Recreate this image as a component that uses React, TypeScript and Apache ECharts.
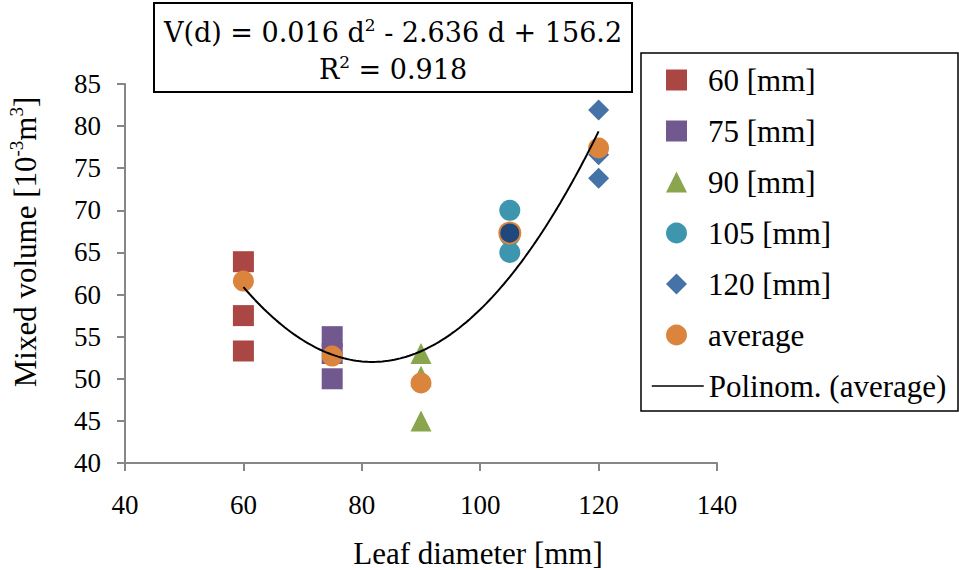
import React, { useEffect, useRef } from "react";
import * as echarts from "echarts";

// Leaf diameters [mm] and mixed volume measurements [10^-3 m^3]
const diameters = [60, 75, 90, 105, 120];
const vol60 = [63.9, 57.5, 53.3];
const vol75 = [55.0, 53.0, 50.0];
const vol90 = [53.0, 50.3, 45.0];
const vol105 = [70.0, 67.0, 65.0];
const vol120 = [81.9, 76.6, 73.8];
const averageVol = [61.6, 52.7, 49.5, 67.3, 77.4];

const seriesNames = ["60 [mm]", "75 [mm]", "90 [mm]", "105 [mm]", "120 [mm]", "average", "Polinom. (average)"];
const xTicks = { min: 40, max: 140, interval: 20 };
const yTicks = { min: 40, max: 85, interval: 5 };

const equationLine1 = "V(d) = 0.016 d{sup|2} - 2.636 d + 156.2";
const equationLine2 = "R{sup|2} = 0.918";

const SERIF = "'Liberation Serif', 'Times New Roman', serif";
const MATH = "'DejaVu Serif', serif";

// Least-squares quadratic fit y = a + b x + c x^2
function fitQuadratic(xs: number[], ys: number[]): number[] {
  const S = [0, 0, 0, 0, 0];
  const T = [0, 0, 0];
  xs.forEach((x, i) => {
    for (let k = 0; k < 5; k++) S[k] += Math.pow(x, k);
    for (let k = 0; k < 3; k++) T[k] += ys[i] * Math.pow(x, k);
  });
  const m = [
    [S[0], S[1], S[2], T[0]],
    [S[1], S[2], S[3], T[1]],
    [S[2], S[3], S[4], T[2]],
  ];
  for (let i = 0; i < 3; i++) {
    for (let j = i + 1; j < 3; j++) {
      const f = m[j][i] / m[i][i];
      for (let k = i; k < 4; k++) m[j][k] -= f * m[i][k];
    }
  }
  const c = [0, 0, 0];
  for (let i = 2; i >= 0; i--) {
    let s = m[i][3];
    for (let k = i + 1; k < 3; k++) s -= m[i][k] * c[k];
    c[i] = s / m[i][i];
  }
  return c;
}

function trendPoints(): number[][] {
  const [a, b, c] = fitQuadratic(diameters, averageVol);
  const pts: number[][] = [];
  const lo = diameters[0];
  const hi = diameters[diameters.length - 1];
  for (let d = lo; d <= hi; d += 0.5) pts.push([d, a + b * d + c * d * d]);
  return pts;
}

const pairs = (d: number, vals: number[]) => vals.map((v) => [d, v]);

export default function App() {
  const ref = useRef<HTMLDivElement>(null);

  useEffect(() => {
    if (!ref.current) return;
    const chart = echarts.init(ref.current, undefined, { renderer: "svg" });

    const scatter = (name: string, data: any[], color: string, symbol: string) => ({
      name,
      type: "scatter",
      data,
      symbol,
      symbolSize: 21,
      itemStyle: { color, opacity: 1 },
      z: 2,
    });

    const avgData = diameters.map((d, i) =>
      i === 3
        ? { value: [d, averageVol[i]], itemStyle: { color: "#1F497D", borderColor: "#DB843D", borderWidth: 2 } }
        : [d, averageVol[i]]
    );

    const legendText = { color: "#000", fontFamily: SERIF, fontSize: 31, lineHeight: 32 };

    const mathStyle = (text: string) => ({
      text,
      align: "center",
      verticalAlign: "middle",
      fontFamily: MATH,
      fontSize: 27,
      lineHeight: 32,
      fill: "#000",
      rich: {
        sup: { fontFamily: MATH, fontSize: 17, lineHeight: 20, verticalAlign: "top", fill: "#000" },
      },
    });

    chart.setOption({
      animation: false,
      backgroundColor: "#ffffff",
      grid: { left: 125, right: 242, top: 84, bottom: 107, containLabel: false },
      xAxis: {
        type: "value",
        min: xTicks.min,
        max: xTicks.max,
        interval: xTicks.interval,
        splitLine: { show: false },
        axisLine: { onZero: false, lineStyle: { color: "#868686", width: 2 } },
        axisTick: { show: true, length: 8, lineStyle: { color: "#868686", width: 2 } },
        axisLabel: { color: "#000", fontFamily: SERIF, fontSize: 27, margin: 28 },
      },
      yAxis: {
        type: "value",
        min: yTicks.min,
        max: yTicks.max,
        interval: yTicks.interval,
        splitLine: { show: false },
        axisLine: { show: true, onZero: false, lineStyle: { color: "#868686", width: 2 } },
        axisTick: { show: true, length: 8, lineStyle: { color: "#868686", width: 2 } },
        axisLabel: { color: "#000", fontFamily: SERIF, fontSize: 27, margin: 24 },
      },
      legend: [
        {
          // marker entries
          orient: "vertical",
          left: 666,
          top: 64,
          padding: 0,
          itemWidth: 21,
          itemHeight: 21,
          itemGap: 19,
          symbolKeepAspect: true,
          data: seriesNames.slice(0, 6),
          textStyle: { ...legendText, padding: [0, 0, 0, 16] },
        },
        {
          // trendline entry
          orient: "vertical",
          left: 651,
          top: 370,
          padding: 0,
          itemWidth: 52,
          itemHeight: 20,
          lineStyle: { width: 1.5 },
          data: [
            {
              name: seriesNames[6],
              itemStyle: { color: "rgba(0,0,0,0)", borderColor: "rgba(0,0,0,0)", borderWidth: 0 },
            },
          ],
          textStyle: legendText,
        },
      ],
      series: [
        scatter(seriesNames[0], pairs(diameters[0], vol60), "#AA4643", "rect"),
        scatter(seriesNames[1], pairs(diameters[1], vol75), "#71588F", "rect"),
        scatter(seriesNames[2], pairs(diameters[2], vol90), "#89A54E", "triangle"),
        scatter(seriesNames[3], pairs(diameters[3], vol105), "#3D96AE", "circle"),
        scatter(seriesNames[4], pairs(diameters[4], vol120), "#4572A7", "diamond"),
        scatter(seriesNames[5], avgData, "#DB843D", "circle"),
        {
          name: seriesNames[6],
          type: "line",
          data: trendPoints(),
          symbol: "none",
          smooth: false,
          lineStyle: { color: "#000", width: 2 },
          itemStyle: { color: "#000" },
          z: 5,
        },
      ],
      graphic: [
        {
          type: "rect",
          shape: { x: 641, y: 53, width: 317, height: 358 },
          style: { fill: "none", stroke: "#000", lineWidth: 1.5 },
          z: 10,
        },
        {
          type: "rect",
          shape: { x: 154, y: 3, width: 478, height: 89 },
          style: { fill: "#fff", stroke: "#000", lineWidth: 2 },
          z: 10,
        },
        { type: "text", x: 393, y: 32, style: mathStyle(equationLine1), z: 11 },
        { type: "text", x: 393, y: 69, style: mathStyle(equationLine2), z: 11 },
        {
          type: "text",
          x: 478,
          y: 553,
          style: {
            text: "Leaf diameter [mm]",
            align: "center",
            verticalAlign: "middle",
            fontFamily: SERIF,
            fontSize: 31,
            fill: "#000",
          },
        },
        {
          type: "text",
          x: 25,
          y: 242,
          rotation: Math.PI / 2,
          style: {
            text: "Mixed volume [10{sup|-3}m{sup|3}]",
            align: "center",
            verticalAlign: "middle",
            fontFamily: SERIF,
            fontSize: 31,
            lineHeight: 36,
            fill: "#000",
            rich: {
              sup: { fontFamily: SERIF, fontSize: 19, lineHeight: 19, verticalAlign: "top", fill: "#000" },
            },
          },
        },
      ],
    });

    return () => chart.dispose();
  }, []);

  return (
    <div
      ref={ref}
      style={{ position: "absolute", left: 0, top: 0, width: 959, height: 570 }}
    />
  );
}
